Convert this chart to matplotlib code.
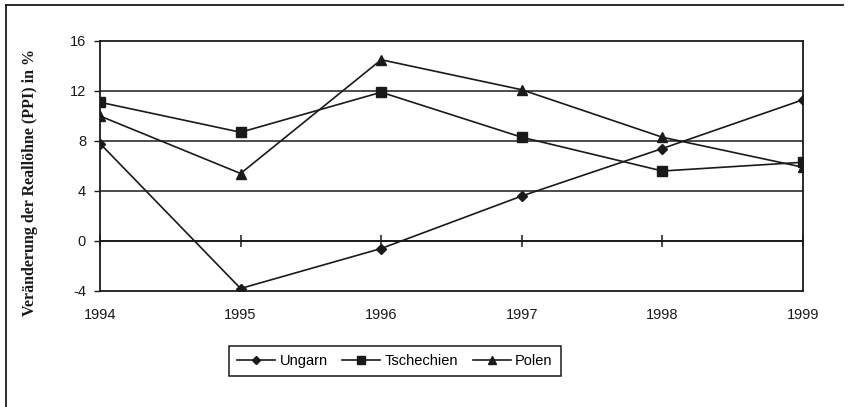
import matplotlib
matplotlib.use('Agg')
import matplotlib.pyplot as plt
from matplotlib.lines import Line2D

years = [1994, 1995, 1996, 1997, 1998, 1999]
ungarn = [7.8, -3.8, -0.6, 3.6, 7.4, 11.3]
tschechien = [11.1, 8.7, 11.9, 8.3, 5.6, 6.3]
polen = [10.0, 5.4, 14.5, 12.1, 8.3, 5.9]
y_ticks = [-4, 0, 4, 8, 12, 16]

ink = '#1a1a1a'
plt.rcParams['font.family'] = ['Liberation Sans', 'DejaVu Sans']
plt.rcParams['axes.unicode_minus'] = False

W, H = 857, 407
fig = plt.figure(figsize=(W / 100, H / 100), dpi=100)
ax = fig.add_axes([100 / W, 1 - 291 / H, 703 / W, 250 / H])

# horizontal gridlines
for v in y_ticks[1:-1]:
    ax.axhline(v, color=ink, lw=1.1, zorder=1)

ax.plot(years, ungarn, color=ink, lw=1.2, marker='D', ms=5, label='Ungarn', zorder=3)
ax.plot(years, tschechien, color=ink, lw=1.2, marker='s', ms=7, label='Tschechien', zorder=3)
ax.plot(years, polen, color=ink, lw=1.2, marker='^', ms=7, label='Polen', zorder=3)

ax.set_xlim(years[0], years[-1])
ax.set_ylim(y_ticks[0], y_ticks[-1])
ax.set_xticks(years)
ax.set_yticks(y_ticks)
ax.tick_params(axis='x', length=0, pad=12, labelsize=10.5, colors=ink)
ax.tick_params(axis='y', length=4, width=1, pad=6, labelsize=10.5, colors=ink)
for sp in ax.spines.values():
    sp.set_color(ink)
    sp.set_linewidth(1.3)

# zero line carrying the crossing year ticks
zero = ax.secondary_xaxis((0 - y_ticks[0]) / (y_ticks[-1] - y_ticks[0]))
zero.set_xticks(years)
zero.tick_params(direction='inout', length=9, width=1.1, labelbottom=False, labeltop=False, colors=ink)
zero.spines['bottom'].set_color(ink)
zero.spines['bottom'].set_linewidth(1.3)

fig.text(30 / W, 1 - 182 / H, 'Veränderung der Reallöhne (PPI) in %', rotation=90,
         ha='center', va='center', fontsize=11.5, fontweight='bold',
         family=['Liberation Serif', 'DejaVu Serif'], color=ink)

leg = fig.legend(loc='center', bbox_to_anchor=(395 / W, 1 - 361 / H), ncol=3,
                 fancybox=False, framealpha=1, edgecolor=ink, fontsize=10.5,
                 handlelength=2.6, columnspacing=1.0, handletextpad=0.3,
                 borderpad=0.55, markerscale=0.85)
leg.get_frame().set_linewidth(1.1)

# scanned page border: top and left edges
fig.add_artist(Line2D([6 / W, 843 / W], [1 - 5 / H, 1 - 5 / H], color=ink, lw=1.3))
fig.add_artist(Line2D([6 / W, 6 / W], [0, 1 - 5 / H], color=ink, lw=1.3))

fig.savefig('out.png', dpi=100)
